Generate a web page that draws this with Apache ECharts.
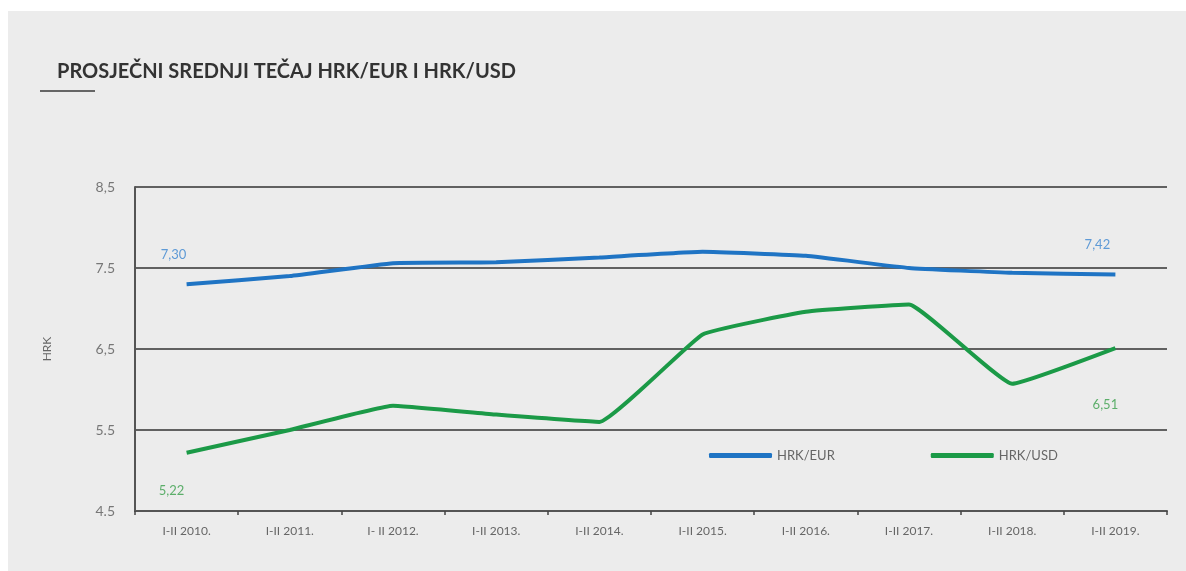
<!DOCTYPE html>
<html>
<head>
<meta charset="utf-8">
<style>
  html, body { margin: 0; padding: 0; background: #ffffff; }
  #main { width: 1186px; height: 571px; }
</style>
<script src="https://cdn.jsdelivr.net/npm/echarts@6/dist/echarts.min.js"></script>
</head>
<body>
<div id="main"></div>
<script>
// kategorije (x os)
var categories = ['I-II 2010.', 'I-II 2011.', 'I- II 2012.', 'I-II 2013.', 'I-II 2014.',
                  'I-II 2015.', 'I-II 2016.', 'I-II 2017.', 'I-II 2018.', 'I-II 2019.'];
// prosječni srednji tečaj
var hrkEur = [7.30, 7.40, 7.56, 7.57, 7.63, 7.70, 7.65, 7.50, 7.44, 7.42];
var hrkUsd = [5.22, 5.50, 5.80, 5.69, 5.60, 6.68, 6.96, 7.05, 6.07, 6.51];
// oznake y osi kako su u originalu
var yTickLabels = {'4.5': '4.5', '5.5': '5.5', '6.5': '6,5', '7.5': '7.5', '8.5': '8,5'};

var FONT = 'Lato, "Open Sans", sans-serif';

function withEndLabels(values, color, firstOffset, lastOffset) {
    var out = [];
    for (var i = 0; i < values.length; i++) {
        var item = {value: values[i]};
        if (i == 0 || i == values.length - 1) {
            item.label = {
                show: true,
                color: color,
                fontSize: 13,
                fontFamily: FONT,
                position: 'inside',
                offset: i == 0 ? firstOffset : lastOffset,
                formatter: function (p) { return p.value.toFixed(2).replace('.', ','); }
            };
        }
        out.push(item);
    }
    return out;
}

var myChart = echarts.init(document.getElementById('main'));
var option = {
    backgroundColor: '#ffffff',
    animation: false,
    graphic: [
        {type: 'rect', z: -10, shape: {x: 8, y: 11, width: 1178, height: 560}, style: {fill: '#ececec'}},
        {type: 'line', shape: {x1: 40, y1: 91, x2: 95, y2: 91}, style: {stroke: '#666666', lineWidth: 2}}
    ],
    title: {
        text: 'PROSJEČNI SREDNJI TEČAJ HRK/EUR I HRK/USD',
        left: 52,
        top: 57,
        textStyle: {fontFamily: FONT, fontSize: 20, fontWeight: 'bold', color: '#333333'}
    },
    legend: {
        left: 704,
        top: 444,
        itemWidth: 63,
        itemHeight: 5,
        itemGap: 96,
        icon: 'roundRect',
        data: ['HRK/EUR', 'HRK/USD'],
        textStyle: {fontFamily: FONT, fontSize: 13, color: '#666666'}
    },
    grid: {left: 135, right: 19, top: 187, bottom: 60},
    xAxis: {
        type: 'category',
        boundaryGap: true,
        data: categories,
        axisLine: {lineStyle: {color: '#555555', width: 2}},
        axisTick: {show: true, length: 4, lineStyle: {color: '#444444', width: 1.5}},
        axisLabel: {fontFamily: FONT, fontSize: 12, color: '#666666', margin: 14, interval: 0}
    },
    yAxis: {
        type: 'value',
        min: 4.5,
        max: 8.5,
        interval: 1,
        name: 'HRK',
        nameLocation: 'middle',
        nameGap: 82,
        nameTextStyle: {fontFamily: FONT, fontSize: 12, color: '#666666'},
        axisLine: {show: true, lineStyle: {color: '#555555', width: 2}},
        axisTick: {show: false},
        axisLabel: {
            fontFamily: FONT, fontSize: 14, color: '#777777', margin: 20,
            formatter: function (v) { return yTickLabels[v.toFixed(1)] || v; }
        },
        splitLine: {lineStyle: {color: '#333333', width: 1.5}}
    },
    series: [
        {
            name: 'HRK/EUR',
            type: 'line',
            smooth: 0.1,
            symbol: 'circle',
            symbolSize: 0,
            color: '#1f74c4',
            lineStyle: {width: 4, color: '#1f74c4'},
            data: withEndLabels(hrkEur, '#5e9ad6', [-13, -29], [-18, -30])
        },
        {
            name: 'HRK/USD',
            type: 'line',
            smooth: 0.1,
            symbol: 'circle',
            symbolSize: 0,
            color: '#1b9a47',
            lineStyle: {width: 4, color: '#1b9a47'},
            data: withEndLabels(hrkUsd, '#5cae6a', [-15, 38], [-10, 57])
        }
    ]
};
myChart.setOption(option);
</script>
</body>
</html>
